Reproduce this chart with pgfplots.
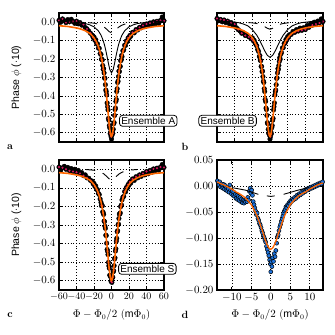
\documentclass[border=0pt]{standalone}
\usepackage{pgfplots}
\pgfplotsset{compat=1.18}
\usepackage{pgfplotstable}
\usepackage{fontspec}
\setsansfont{Liberation Sans}
\definecolor{fitorange}{RGB}{255,102,0}
\definecolor{dotred}{RGB}{214,22,96}
\definecolor{ptblue}{RGB}{30,115,220}

\pgfplotsset{
  panel/.style={
    scale only axis,
    clip mode=individual,
    tick align=inside,
    major tick length=3.5pt,
    every tick/.style={black, line width=0.7pt},
    axis line style={line width=1.2pt},
    grid=major,
    grid style={black, dotted, line width=0.6pt},
    tick label style={font=\fontsize{10.5}{12}\selectfont},
    label style={font=\fontsize{10.5}{12}\selectfont},
  },
  phase/.style={panel, xmin=-60, xmax=60, ymin=-0.65, ymax=0.05,
    xtick={-60,-40,-20,0,20,40,60}, ytick={-0.6,-0.5,-0.4,-0.3,-0.2,-0.1,0},
    yticklabel style={/pgf/number format/.cd, fixed, fixed zerofill, precision=1},
  },
  data/.style={only marks, mark=*, mark size=2.3pt, black, mark options={draw=black, fill=black}},
  sub/.style={only marks, mark=*, mark size=0.8pt, dotred, each nth point=2, mark options={draw=dotred, fill=dotred}},
  fit/.style={no marks, fitorange, line width=1.6pt},
  thin/.style={no marks, black, line width=0.9pt},
  dsh/.style={no marks, black, line width=0.9pt, dash pattern=on 9pt off 8pt},
}

% panel a data
\pgfplotstableread{
x y
-60 0.010
-58 0.000
-56 0.018
-54 0.008
-52 -0.002
-50 0.014
-48 0.002
-46 0.016
-44 0.004
-42 -0.006
-40 0.006
-38 -0.009
-36 -0.002
-34 -0.016
-32 -0.012
-30 -0.029
-28 -0.036
-26 -0.048
-24 -0.060
-22 -0.070
-21 -0.083
-20 -0.080
-19 -0.098
-18 -0.095
-17 -0.115
-16 -0.118
-15 -0.140
-14 -0.142
-13 -0.170
-12 -0.175
-11.5 -0.201
-11 -0.201
-10.5 -0.205
-10 -0.235
-9.5 -0.256
-9 -0.252
-8.5 -0.275
-8 -0.302
-7.5 -0.305
-7 -0.339
-6.5 -0.368
-6 -0.377
-5.5 -0.395
-5 -0.438
-4.5 -0.458
-4 -0.476
-3.5 -0.522
-3 -0.532
-2.5 -0.561
-2 -0.573
-1.5 -0.605
-1 -0.596
-0.5 -0.621
0 -0.634
0.5 -0.614
1 -0.599
1.5 -0.603
2 -0.581
2.5 -0.551
3 -0.545
3.5 -0.506
4 -0.474
4.5 -0.466
5 -0.430
5.5 -0.419
6 -0.376
6.5 -0.361
7 -0.327
7.5 -0.320
8 -0.295
8.5 -0.265
9 -0.268
9.5 -0.240
10 -0.240
10.5 -0.209
11 -0.206
11.5 -0.181
12 -0.187
13 -0.155
14 -0.150
15 -0.125
16 -0.126
17 -0.102
18 -0.105
19 -0.085
20 -0.088
21 -0.072
22 -0.076
24 -0.055
26 -0.058
28 -0.040
30 -0.042
32 -0.028
34 -0.030
36 -0.018
38 -0.024
40 -0.010
42 -0.018
44 -0.004
46 -0.012
48 0.002
50 -0.010
52 0.005
54 -0.006
56 0.010
58 0.028
60 0.008
}\dataA

% panel b data
\pgfplotstableread{
x y
-60 0.020
-58 0.008
-56 0.015
-54 0.002
-52 0.012
-50 -0.002
-48 0.006
-46 -0.008
-44 -0.002
-42 -0.018
-40 -0.010
-38 -0.030
-36 -0.040
-34 -0.048
-32 -0.060
-30 -0.058
-28 -0.072
-26 -0.070
-24 -0.080
-22 -0.082
-21 -0.090
-20 -0.085
-19 -0.100
-18 -0.098
-17 -0.112
-16 -0.120
-15 -0.128
-14 -0.148
-13 -0.158
-12 -0.187
-11.5 -0.181
-11 -0.206
-10.5 -0.209
-10 -0.240
-9.5 -0.240
-9 -0.268
-8.5 -0.265
-8 -0.295
-7.5 -0.320
-7 -0.327
-6.5 -0.361
-6 -0.376
-5.5 -0.419
-5 -0.430
-4.5 -0.466
-4 -0.474
-3.5 -0.506
-3 -0.545
-2.5 -0.551
-2 -0.581
-1.5 -0.603
-1 -0.599
-0.5 -0.614
0 -0.634
0.5 -0.621
1 -0.596
1.5 -0.605
2 -0.573
2.5 -0.561
3 -0.532
3.5 -0.522
4 -0.476
4.5 -0.458
5 -0.438
5.5 -0.395
6 -0.377
6.5 -0.368
7 -0.339
7.5 -0.305
8 -0.302
8.5 -0.275
9 -0.252
9.5 -0.256
10 -0.235
10.5 -0.213
11 -0.193
11.5 -0.201
12 -0.175
13 -0.165
14 -0.140
15 -0.138
16 -0.115
17 -0.114
18 -0.094
19 -0.096
20 -0.078
21 -0.082
22 -0.068
24 -0.066
26 -0.050
28 -0.055
30 -0.040
32 -0.048
34 -0.032
36 -0.044
38 -0.030
40 -0.040
42 -0.018
44 -0.028
46 -0.008
48 -0.016
50 0.000
52 -0.010
54 0.006
56 -0.004
58 0.018
60 0.004
}\dataB

% panel c data
\pgfplotstableread{
x y
-60 0.012
-58 -0.004
-56 0.008
-54 0.016
-52 0.000
-50 0.010
-48 -0.008
-46 0.004
-44 -0.012
-42 0.000
-40 -0.016
-38 -0.006
-36 -0.022
-34 -0.018
-32 -0.034
-30 -0.030
-28 -0.046
-26 -0.048
-24 -0.060
-22 -0.064
-21 -0.078
-20 -0.076
-19 -0.092
-18 -0.090
-17 -0.108
-16 -0.110
-15 -0.130
-14 -0.136
-13 -0.160
-12 -0.178
-11.5 -0.196
-11 -0.192
-10.5 -0.197
-10 -0.229
-9.5 -0.235
-9 -0.243
-8.5 -0.279
-8 -0.282
-7.5 -0.307
-7 -0.318
-6.5 -0.355
-6 -0.357
-5.5 -0.398
-5 -0.432
-4.5 -0.441
-4 -0.459
-3.5 -0.501
-3 -0.520
-2.5 -0.533
-2 -0.570
-1.5 -0.573
-1 -0.579
-0.5 -0.604
0 -0.598
0.5 -0.609
1 -0.584
1.5 -0.581
2 -0.552
2.5 -0.546
3 -0.519
3.5 -0.483
4 -0.477
4.5 -0.440
5 -0.428
5.5 -0.387
6 -0.372
6.5 -0.336
7 -0.331
7.5 -0.299
8 -0.295
8.5 -0.265
9 -0.241
9.5 -0.241
10 -0.235
10.5 -0.201
11 -0.195
11.5 -0.193
12 -0.165
13 -0.150
14 -0.146
15 -0.120
16 -0.122
17 -0.098
18 -0.102
19 -0.082
20 -0.086
21 -0.068
22 -0.074
24 -0.052
26 -0.060
28 -0.040
30 -0.046
32 -0.030
34 -0.038
36 -0.022
38 -0.030
40 -0.012
42 -0.024
44 -0.006
46 -0.016
48 0.002
50 -0.010
52 0.006
54 -0.004
56 0.012
58 0.026
60 0.010
}\dataC

% panel d data
\pgfplotstableread{
x y
-13.7 0.010
-13.5 0.006
-13.3 0.002
-13.1 0.008
-12.9 -0.002
-12.7 0.004
-12.5 0.000
-12.3 -0.004
-12.1 0.003
-11.9 -0.006
-11.7 0.001
-11.5 -0.008
-11.3 -0.003
-11.1 -0.010
-10.9 -0.005
-10.7 -0.012
-10.5 0.002
-10.3 -0.008
-10.1 -0.015
-9.9 -0.010
-9.7 -0.018
-9.5 -0.012
-9.3 -0.020
-9.1 -0.016
-8.9 -0.024
-8.7 -0.018
-8.5 -0.026
-8.3 -0.020
-8.1 -0.028
-7.9 -0.022
-7.7 -0.030
-7.5 -0.025
-7.3 -0.032
-7.1 -0.027
-6.9 -0.033
-6.7 -0.028
-6.5 -0.031
-6.3 -0.025
-6.1 -0.030
-5.9 -0.022
-5.7 -0.027
-5.5 -0.010
-5.3 -0.004
-5.1 -0.014
-4.9 -0.008
-4.7 -0.018
-4.5 -0.030
-4.3 -0.036
-4.1 -0.042
-3.9 -0.048
-3.7 -0.055
-3.5 -0.052
-3.3 -0.062
-3.1 -0.066
-2.9 -0.072
-2.7 -0.075
-2.5 -0.080
-2.3 -0.086
-2.1 -0.090
-1.9 -0.096
-1.7 -0.099
-1.5 -0.104
-1.3 -0.108
-1.1 -0.116
-0.9 -0.122
-0.7 -0.128
-0.5 -0.134
-0.3 -0.142
-0.1 -0.150
0.0 -0.165
0.1 -0.146
0.3 -0.155
0.5 -0.138
0.7 -0.145
0.9 -0.130
1.1 -0.136
1.3 -0.124
1.5 -0.110
1.7 -0.098
1.9 -0.094
2.1 -0.086
2.3 -0.079
2.5 -0.074
2.7 -0.068
2.9 -0.063
3.1 -0.058
3.3 -0.052
3.5 -0.048
3.7 -0.045
3.9 -0.040
4.1 -0.042
4.3 -0.036
4.5 -0.038
4.7 -0.032
4.9 -0.034
5.1 -0.028
5.3 -0.030
5.5 -0.025
5.8 -0.027
6.1 -0.022
6.4 -0.024
6.7 -0.018
7.0 -0.020
7.3 -0.015
7.6 -0.017
7.9 -0.012
8.2 -0.014
8.5 -0.009
8.8 -0.011
9.1 -0.006
9.4 -0.008
9.7 -0.004
10.0 -0.006
10.3 -0.002
10.6 -0.004
10.9 0.000
11.2 -0.002
11.5 0.002
11.8 0.000
12.1 0.004
12.4 0.002
12.7 0.006
13.0 0.004
13.3 0.008
}\dataD

\begin{document}
\begin{tikzpicture}
\path[use as bounding box] (0,0) rectangle (335pt,335pt);

% ---- a ----
\begin{axis}[phase, name=axa, at={(59pt,193pt)}, anchor=south west,
    width=105pt, height=129pt, xticklabels={},
    ylabel={\sffamily Phase $\phi$ ($\cdot$10)},
    ylabel style={at={(axis description cs:-0.405,0.5)}, anchor=center}]
  \addplot[dsh, dash phase=14pt] coordinates {
    (-30,-0.001) (-25,-0.003) (-20,-0.005) (-15,-0.0105) (-12,-0.016) (-9,-0.024)
    (-6,-0.036) (-3,-0.050) (0,-0.058) (3,-0.050) (6,-0.036) (9,-0.024)
    (12,-0.016) (15,-0.0105) (20,-0.005) (25,-0.003) (30,-0.001)};
  \addplot[data] table {\dataA};
  \addplot[sub] table {\dataA};
  \addplot[thin] coordinates {
    (-60,0.006) (-40,0.0) (-30,-0.007) (-25,-0.014) (-20,-0.025) (-15,-0.047)
    (-12,-0.070) (-10,-0.093) (-8,-0.123) (-6,-0.164) (-4,-0.212) (-2,-0.256)
    (0,-0.275) (2,-0.256) (4,-0.212) (6,-0.164) (8,-0.123) (10,-0.093)
    (12,-0.070) (15,-0.047) (20,-0.025) (25,-0.014) (30,-0.007) (40,0.0) (60,0.006)};
  \addplot[fit] coordinates {
    (-60,-0.019) (-50,-0.023) (-40,-0.031) (-35,-0.037) (-30,-0.046) (-25,-0.060)
    (-22,-0.0735) (-20,-0.085) (-18,-0.100) (-16,-0.120) (-14,-0.146) (-12,-0.181)
    (-10,-0.230) (-9,-0.260) (-8,-0.295) (-7,-0.336) (-6,-0.382) (-5,-0.432)
    (-4,-0.485) (-3,-0.536) (-2,-0.580) (-1,-0.609) (-0.5,-0.617) (0,-0.620)
    (0.5,-0.617) (1,-0.609) (2,-0.580) (3,-0.536) (4,-0.485) (5,-0.432)
    (6,-0.382) (7,-0.336) (8,-0.295) (9,-0.260) (10,-0.230) (12,-0.181)
    (14,-0.146) (16,-0.120) (18,-0.100) (20,-0.085) (22,-0.0735) (25,-0.060)
    (30,-0.046) (35,-0.037) (40,-0.031) (50,-0.023) (60,-0.019)};
  \node[draw, fill=white, rounded corners=3pt, line width=0.8pt, inner sep=1.8pt,
    font=\sffamily\fontsize{10}{12}\selectfont] at (axis cs:42,-0.535) {Ensemble A};
\end{axis}

% ---- b ----
\begin{axis}[phase, name=axb, at={(217pt,193pt)}, anchor=south west,
    width=106pt, height=129pt, xticklabels={}, yticklabels={}]
  \addplot[dsh, dash phase=12pt] coordinates {
    (-30,-0.0006) (-25,-0.0017) (-20,-0.0035) (-15,-0.0069) (-12,-0.0103) (-9,-0.0156)
    (-6,-0.024) (-3,-0.033) (0,-0.038) (3,-0.033) (6,-0.024) (9,-0.0156)
    (12,-0.0103) (15,-0.0069) (20,-0.0035) (25,-0.0017) (30,-0.0006)};
  \addplot[data] table {\dataB};
  \addplot[sub] table {\dataB};
  \addplot[thin] coordinates {
    (-60,0.005) (-50,0.005) (-40,0.0) (-35,-0.003) (-30,-0.010) (-25,-0.020)
    (-20,-0.040) (-15,-0.070) (-12,-0.095) (-9,-0.125) (-6,-0.155) (-3,-0.180)
    (0,-0.190) (3,-0.180) (6,-0.155) (9,-0.125) (12,-0.095) (15,-0.070)
    (20,-0.040) (25,-0.020) (30,-0.010) (35,-0.003) (40,0.0) (50,0.005) (60,0.005)};
  \addplot[fit] coordinates {
    (-60,-0.019) (-50,-0.023) (-40,-0.031) (-35,-0.037) (-30,-0.046) (-25,-0.060)
    (-22,-0.0735) (-20,-0.085) (-18,-0.100) (-16,-0.120) (-14,-0.146) (-12,-0.181)
    (-10,-0.230) (-9,-0.260) (-8,-0.295) (-7,-0.336) (-6,-0.382) (-5,-0.432)
    (-4,-0.485) (-3,-0.536) (-2,-0.580) (-1,-0.609) (-0.5,-0.617) (0,-0.620)
    (0.5,-0.617) (1,-0.609) (2,-0.580) (3,-0.536) (4,-0.485) (5,-0.432)
    (6,-0.382) (7,-0.336) (8,-0.295) (9,-0.260) (10,-0.230) (12,-0.181)
    (14,-0.146) (16,-0.120) (18,-0.100) (20,-0.085) (22,-0.0735) (25,-0.060)
    (30,-0.046) (35,-0.037) (40,-0.031) (50,-0.023) (60,-0.019)};
  \node[draw, fill=white, rounded corners=3pt, line width=0.8pt, inner sep=1.8pt,
    font=\sffamily\fontsize{10}{12}\selectfont] at (axis cs:-48,-0.535) {Ensemble B};
\end{axis}

% ---- c ----
\begin{axis}[phase, name=axc, at={(59pt,45pt)}, anchor=south west,
    width=105pt, height=130pt,
    xticklabel style={font=\fontsize{10}{12}\selectfont},
    ylabel={\sffamily Phase $\phi$ ($\cdot$10)},
    ylabel style={at={(axis description cs:-0.405,0.5)}, anchor=center},
    xlabel={$\Phi-\Phi_0/2$ ({\sffamily m}$\Phi_0$)},
    xlabel style={at={(axis description cs:0.5,-0.19)}, anchor=center}]
  \addplot[dsh, dash phase=16pt] coordinates {
    (-30,-0.001) (-25,-0.003) (-20,-0.005) (-15,-0.0105) (-12,-0.016) (-9,-0.024)
    (-6,-0.036) (-3,-0.050) (0,-0.058) (3,-0.050) (6,-0.036) (9,-0.024)
    (12,-0.016) (15,-0.0105) (20,-0.005) (25,-0.003) (30,-0.001)};
  \addplot[data] table {\dataC};
  \addplot[sub] table {\dataC};
  \addplot[fit] coordinates {
    (-60,-0.018) (-50,-0.022) (-40,-0.030) (-35,-0.036) (-30,-0.045) (-25,-0.058)
    (-22,-0.071) (-20,-0.082) (-18,-0.097) (-16,-0.116) (-14,-0.141) (-12,-0.175)
    (-10,-0.223) (-9,-0.252) (-8,-0.286) (-7,-0.325) (-6,-0.370) (-5,-0.418)
    (-4,-0.469) (-3,-0.519) (-2,-0.561) (-1,-0.590) (-0.5,-0.597) (0,-0.600)
    (0.5,-0.597) (1,-0.590) (2,-0.561) (3,-0.519) (4,-0.469) (5,-0.418)
    (6,-0.370) (7,-0.325) (8,-0.286) (9,-0.252) (10,-0.223) (12,-0.175)
    (14,-0.141) (16,-0.116) (18,-0.097) (20,-0.082) (22,-0.071) (25,-0.058)
    (30,-0.045) (35,-0.036) (40,-0.030) (50,-0.022) (60,-0.018)};
  \node[draw, fill=white, rounded corners=3pt, line width=0.8pt, inner sep=1.8pt,
    font=\sffamily\fontsize{10}{12}\selectfont] at (axis cs:41,-0.536) {Ensemble S};
\end{axis}

% ---- d ----
\begin{axis}[panel, name=axd, at={(217pt,45pt)}, anchor=south west,
    width=106pt, height=130pt,
    xmin=-13.8, xmax=13.4, ymin=-0.2, ymax=0.05,
    xtick={-10,-5,0,5,10}, ytick={-0.2,-0.15,-0.1,-0.05,0,0.05},
    yticklabel style={/pgf/number format/.cd, fixed, fixed zerofill, precision=2},
    xlabel={$\Phi-\Phi_0/2$ ({\sffamily m}$\Phi_0$)},
    xlabel style={at={(axis description cs:0.5,-0.19)}, anchor=center}]
  \addplot[only marks, mark=*, mark size=2pt,
    mark options={draw=black, fill=ptblue, line width=0.5pt}] table {\dataD};
  \addplot[thin] coordinates {(-10,-0.003) (-6.5,-0.008) (-3.2,-0.016)};
  \addplot[thin] coordinates {(-1,-0.019) (0,-0.020) (1,-0.019)};
  \addplot[thin] coordinates {(3.3,-0.016) (6.5,-0.009) (9.7,-0.003)};
  \addplot[no marks, fitorange, line width=1.3pt] coordinates {
    (-13.8,0.008) (-13,0.005) (-12,0.002) (-11,-0.002) (-10,-0.006) (-9,-0.011)
    (-8,-0.015) (-7,-0.020) (-6,-0.027) (-5,-0.036) (-4,-0.050) (-3.5,-0.058)
    (-3,-0.068) (-2.5,-0.079) (-2,-0.090) (-1.5,-0.102) (-1,-0.112) (-0.5,-0.119)
    (0,-0.122) (0.5,-0.119) (1,-0.112) (1.5,-0.102) (2,-0.090) (2.5,-0.079)
    (3,-0.068) (3.5,-0.058) (4,-0.050) (5,-0.036) (6,-0.027) (7,-0.020)
    (8,-0.015) (9,-0.011) (10,-0.006) (11,-0.002) (12,0.002) (13,0.005) (13.4,0.006)};
\end{axis}

\node[font=\bfseries\fontsize{10.5}{12}\selectfont] at (10pt,188pt) {a};
\node[font=\bfseries\fontsize{10.5}{12}\selectfont] at (185pt,188pt) {b};
\node[font=\bfseries\fontsize{10.5}{12}\selectfont] at (10pt,20pt) {c};
\node[font=\bfseries\fontsize{10.5}{12}\selectfont] at (185pt,20pt) {d};
\end{tikzpicture}
\end{document}
